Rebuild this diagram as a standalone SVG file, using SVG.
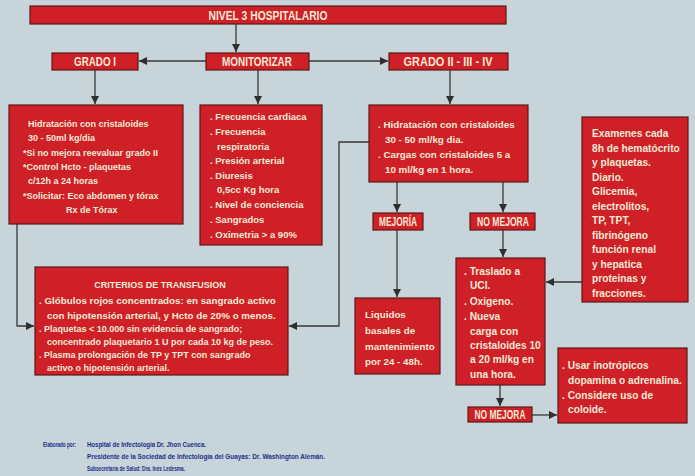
<svg xmlns="http://www.w3.org/2000/svg" width="695" height="476" viewBox="0 0 695 476">
  <style>
    .box { fill: #cf2028; stroke: #5a1818; stroke-width: 1.2; }
    .hd { fill: #f6ead5; font-family: "Liberation Sans", Arial, sans-serif; font-weight: bold; font-size: 12px; text-anchor: middle; }
    .tx { fill: #f6ead5; font-family: "Liberation Sans", Arial, sans-serif; font-weight: bold; font-size: 9px; }
    .m { font-size: 9.5px; }
    .l { font-size: 9.8px; }
    .xl { font-size: 10.2px; }
    .sm { font-size: 9px; }
    .ft { fill: #1c2f8c; font-family: "Liberation Sans", Arial, sans-serif; font-weight: bold; font-size: 6.5px; }
    .cn { fill: none; stroke: #383838; stroke-width: 1.3; }
  </style>
  <defs>
    <marker id="arr" viewBox="0 0 10 10" refX="10" refY="5" markerWidth="8" markerHeight="8" markerUnits="userSpaceOnUse" orient="auto">
      <path d="M0,0 L10,5 L0,10 z" fill="#2e2e2e"/>
    </marker>
  </defs>

  <!-- paper background -->
  <rect x="0" y="0" width="695" height="476" fill="#c7d4d9"/>

  <!-- connectors -->
  <g id="connectors" class="cn" marker-end="url(#arr)">
    <path d="M236,24 V52"/>
    <path d="M206,61 H139"/>
    <path d="M309,61 H388"/>
    <path d="M95,70 V104"/>
    <path d="M258,70 V104"/>
    <path d="M450,70 V104"/>
    <path d="M17,224 V326 H34"/>
    <path d="M369,142 H339 V326 H289"/>
    <path d="M397,182 V212"/>
    <path d="M503,182 V212"/>
    <path d="M397,230 V297"/>
    <path d="M503,230 V257"/>
    <path d="M582,282 H546"/>
    <path d="M500,385 V406"/>
    <path d="M532,415 H557"/>
  </g>

  <g id="nivel3">
    <rect class="box" x="30" y="6" width="476" height="18"/>
    <text class="hd" x="268" y="19.5" textLength="119" lengthAdjust="spacingAndGlyphs">NIVEL 3 HOSPITALARIO</text>
  </g>

  <g id="grado1">
    <rect class="box" x="52" y="53" width="86" height="17"/>
    <text class="hd" x="95" y="66" textLength="42" lengthAdjust="spacingAndGlyphs">GRADO I</text>
  </g>

  <g id="monitorizar">
    <rect class="box" x="206" y="53" width="103" height="17"/>
    <text class="hd" x="257" y="66" textLength="70" lengthAdjust="spacingAndGlyphs">MONITORIZAR</text>
  </g>

  <g id="grado2">
    <rect class="box" x="389" y="53" width="119" height="17"/>
    <text class="hd" x="448" y="66" textLength="89" lengthAdjust="spacingAndGlyphs">GRADO II - III - IV</text>
  </g>

  <g id="grado1-manejo">
    <rect class="box" x="9" y="105" width="174" height="119"/>
    <text class="tx" x="28" y="127">Hidratación con cristaloides</text>
    <text class="tx" x="28" y="141">30 - 50ml kg/dia</text>
    <text class="tx" x="23" y="156">*Si no mejora reevaluar grado II</text>
    <text class="tx" x="23" y="170">*Control Hcto - plaquetas</text>
    <text class="tx" x="28" y="184">c/12h a 24 horas</text>
    <text class="tx" x="23" y="199">*Solicitar: Eco abdomen y tórax</text>
    <text class="tx" x="66" y="213">Rx de Tórax</text>
  </g>

  <g id="monitoreo">
    <rect class="box" x="200" y="105" width="122" height="140"/>
    <text class="tx m" x="210" y="120">. Frecuencia cardiaca</text>
    <text class="tx m" x="210" y="135">. Frecuencia</text>
    <text class="tx m" x="217" y="150">respiratoria</text>
    <text class="tx m" x="210" y="164">. Presión arterial</text>
    <text class="tx m" x="210" y="179">. Diuresis</text>
    <text class="tx m" x="217" y="193">0,5cc Kg hora</text>
    <text class="tx m" x="210" y="208">. Nivel de conciencia</text>
    <text class="tx m" x="210" y="223">. Sangrados</text>
    <text class="tx m" x="210" y="238">. Oximetria &gt; a 90%</text>
  </g>

  <g id="grado2-manejo">
    <rect class="box" x="369" y="105" width="159" height="77"/>
    <text class="tx l" x="378" y="128">. Hidratación con cristaloides</text>
    <text class="tx l" x="385" y="143">30 - 50 ml/kg dia.</text>
    <text class="tx l" x="378" y="158">. Cargas con cristaloides 5 a</text>
    <text class="tx l" x="385" y="173">10 ml/kg en 1 hora.</text>
  </g>

  <g id="examenes">
    <rect class="box" x="582" y="117" width="106" height="185"/>
    <text class="tx xl" x="592" y="137">Examenes cada</text>
    <text class="tx xl" x="592" y="151.5">8h de hematócrito</text>
    <text class="tx xl" x="592" y="166">y plaquetas.</text>
    <text class="tx xl" x="592" y="180.5">Diario.</text>
    <text class="tx xl" x="592" y="195">Glicemia,</text>
    <text class="tx xl" x="592" y="209.5">electrolitos,</text>
    <text class="tx xl" x="592" y="224">TP, TPT,</text>
    <text class="tx xl" x="592" y="238.5">fibrinógeno</text>
    <text class="tx xl" x="592" y="253">función renal</text>
    <text class="tx xl" x="592" y="267.5">y hepatica</text>
    <text class="tx xl" x="592" y="282">proteinas y</text>
    <text class="tx xl" x="592" y="296.5">fracciones.</text>
  </g>

  <g id="transfusion">
    <rect class="box" x="35" y="267" width="253" height="108"/>
    <text class="tx" x="160" y="288" text-anchor="middle">CRITERIOS DE TRANSFUSION</text>
    <text class="tx l" x="39" y="304">. Glóbulos rojos concentrados: en sangrado activo</text>
    <text class="tx l" x="47" y="319">con hipotensión arterial, y Hcto de 20% o menos.</text>
    <text class="tx sm" x="39" y="332">. Plaquetas &lt; 10.000 sin evidencia de sangrado;</text>
    <text class="tx sm" x="47" y="345">concentrado plaquetario 1 U por cada 10 kg de peso.</text>
    <text class="tx sm" x="39" y="358">. Plasma prolongación de TP y TPT con sangrado</text>
    <text class="tx sm" x="47" y="371">activo o hipotensión arterial.</text>
  </g>

  <g id="mejoria">
    <rect class="box" x="373" y="213" width="50" height="17"/>
    <text class="hd" x="398" y="225.5" textLength="38" lengthAdjust="spacingAndGlyphs">MEJORÍA</text>
  </g>

  <g id="no-mejora">
    <rect class="box" x="470" y="213" width="65" height="17"/>
    <text class="hd" x="503" y="225.5" textLength="52" lengthAdjust="spacingAndGlyphs">NO MEJORA</text>
  </g>

  <g id="liquidos">
    <rect class="box" x="355" y="298" width="85" height="76"/>
    <text class="tx l" x="365" y="318">Liquidos</text>
    <text class="tx l" x="365" y="334">basales de</text>
    <text class="tx l" x="365" y="350">mantenimiento</text>
    <text class="tx l" x="365" y="365">por 24 - 48h.</text>
  </g>

  <g id="traslado">
    <rect class="box" x="456" y="258" width="89" height="127"/>
    <text class="tx xl" x="464" y="275">. Traslado a</text>
    <text class="tx xl" x="470" y="289">UCI.</text>
    <text class="tx xl" x="464" y="305">. Oxigeno.</text>
    <text class="tx xl" x="464" y="320">. Nueva</text>
    <text class="tx xl" x="470" y="335">carga con</text>
    <text class="tx xl" x="470" y="349">cristaloides 10</text>
    <text class="tx xl" x="470" y="363">a 20 ml/kg en</text>
    <text class="tx xl" x="470" y="378">una hora.</text>
  </g>

  <g id="no-mejora-2">
    <rect class="box" x="468" y="407" width="64" height="15"/>
    <text class="hd" x="500" y="418.5" textLength="51" lengthAdjust="spacingAndGlyphs">NO MEJORA</text>
  </g>

  <g id="inotropicos">
    <rect class="box" x="558" y="348" width="129" height="75"/>
    <text class="tx xl" x="562" y="369">. Usar inotrópicos</text>
    <text class="tx xl" x="568" y="384">dopamina o adrenalina.</text>
    <text class="tx xl" x="562" y="399">. Considere uso de</text>
    <text class="tx xl" x="568" y="413">coloide.</text>
  </g>

  <g id="creditos">
    <text class="ft" x="43" y="447" textLength="33" lengthAdjust="spacingAndGlyphs">Elaborado por:</text>
    <text class="ft" x="87" y="447" textLength="119" lengthAdjust="spacingAndGlyphs">Hospital de Infectología Dr. Jhon Cuenca.</text>
    <text class="ft" x="87" y="459" textLength="238" lengthAdjust="spacingAndGlyphs">Presidente de la Sociedad de Infectología del Guayas: Dr. Washington Alemán.</text>
    <text class="ft" x="87" y="471" textLength="98" lengthAdjust="spacingAndGlyphs">Subsecretaría de Salud: Dra. Inés Ledesma.</text>
  </g>
</svg>
